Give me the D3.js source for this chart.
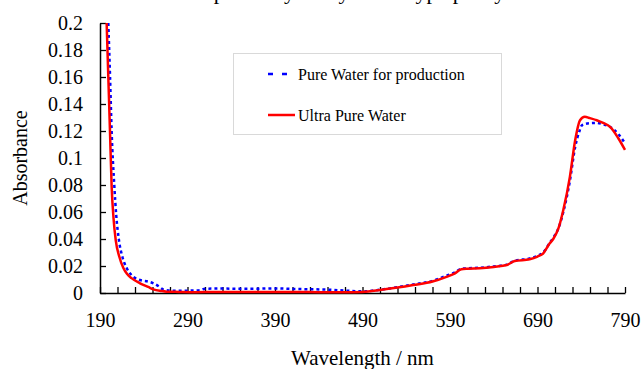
<!DOCTYPE html>
<meta charset="utf-8">
<script src="https://d3js.org/d3.v7.min.js"></script>
<style>
  body { margin: 0; background: #fff; }
  text { font-family: "Liberation Serif", "Times New Roman", serif; fill: #000; }
</style>
<div id="chart"></div>
<script>

// wavelength (nm) and absorbance readings for each sample
const pureNm = [199.5, 201.5, 203.3, 206.4, 208.5, 211.7, 215.5, 220.5, 226, 235.7, 245, 251, 257, 262, 270, 280, 295, 305, 310, 330, 350, 370, 390, 410, 430, 450, 470, 490, 510, 530, 548, 570, 586, 595.7, 603, 610, 624, 640, 655, 664, 681, 690, 696.6, 704, 708, 714, 719.5, 727, 733, 738, 741, 750, 757, 765, 773, 782, 790];
const pureAbs = [0.200, 0.16, 0.12, 0.079, 0.058, 0.039, 0.027, 0.0185, 0.0133, 0.0096, 0.0085, 0.0072, 0.005, 0.0027, 0.0018, 0.0017, 0.0018, 0.0022, 0.0032, 0.0033, 0.0031, 0.0032, 0.0034, 0.003, 0.0028, 0.0025, 0.0018, 0.0012, 0.0024, 0.0043, 0.0063, 0.009, 0.0128, 0.0152, 0.018, 0.0183, 0.0187, 0.0197, 0.021, 0.024, 0.0255, 0.0275, 0.030, 0.0372, 0.041, 0.048, 0.060, 0.083, 0.108, 0.12, 0.1244, 0.1258, 0.126, 0.125, 0.123, 0.118, 0.111];

const ultraNm = [197.6, 199.5, 201.4, 203.3, 205.5, 208, 212, 216.7, 221, 226, 235.7, 245, 251, 260, 266, 280, 300, 320, 350, 380, 410, 440, 470, 490, 510, 530, 548, 570, 586, 595.7, 603, 610, 624, 640, 655, 664, 681, 690, 696.6, 704, 708, 714, 719.5, 727, 733, 738.6, 744, 750, 757.6, 765, 773, 782, 790];
const ultraAbs = [0.200, 0.16, 0.12, 0.079, 0.055, 0.039, 0.027, 0.0185, 0.014, 0.011, 0.0072, 0.0045, 0.0027, 0.0015, 0.001, 0.0008, 0.0006, 0.0008, 0.0008, 0.0007, 0.0008, 0.0006, 0.0005, 0.0008, 0.0022, 0.004, 0.0059, 0.0085, 0.012, 0.0146, 0.0176, 0.018, 0.0183, 0.0193, 0.0207, 0.0237, 0.025, 0.027, 0.0294, 0.0368, 0.040, 0.048, 0.0615, 0.086, 0.113, 0.128, 0.1306, 0.1295, 0.128, 0.126, 0.123, 0.115, 0.106];

const seriesNames = ["Pure Water for production", "Ultra Pure Water"];
const xTickLabels = [190, 290, 390, 490, 590, 690, 790];
const yTickLabels = [0, 0.02, 0.04, 0.06, 0.08, 0.1, 0.12, 0.14, 0.16, 0.18, 0.2];

const W = 642, H = 369;
const margin = {top: 23, right: 17, bottom: 76, left: 100};
const width = W - margin.left - margin.right,
      height = H - margin.top - margin.bottom;

const svg = d3.select("#chart").append("svg")
    .attr("width", W)
    .attr("height", H);

// title sits above the visible area, only descenders peek in
svg.append("text")
    .attr("x", 300)
    .attr("y", -1)
    .attr("text-anchor", "middle")
    .style("font-size", "22px")
    .text("Absorbance spectra by every water type purity");

const g = svg.append("g")
    .attr("transform", `translate(${margin.left},${margin.top})`);

const x = d3.scaleLinear().domain([190, 790]).range([0, width]);
const y = d3.scaleLinear().domain([0, 0.2]).range([height, 0]);

// X axis: minor ticks every 20 nm pointing up, labels every 100
const xAxis = g.append("g")
    .attr("transform", `translate(0,${height})`)
    .call(d3.axisBottom(x)
        .tickValues(d3.range(190, 791, 20))
        .tickSizeInner(-6)
        .tickSizeOuter(0)
        .tickFormat(d => xTickLabels.includes(d) ? d : ""));
xAxis.select(".domain").attr("stroke", "#000").attr("stroke-width", 1.5);
xAxis.selectAll(".tick line").attr("stroke", "#000").attr("stroke-width", 1.3);
xAxis.selectAll(".tick text")
    .attr("y", 20)
    .attr("dy", "0.71em")
    .style("font-size", "20px")
    .style("font-family", "'Liberation Serif', 'Times New Roman', serif");

const yAxis = g.append("g")
    .call(d3.axisLeft(y)
        .tickValues(yTickLabels)
        .tickSizeInner(-6)
        .tickSizeOuter(0)
        .tickFormat(d => d3.format("~g")(d)));
yAxis.select(".domain").attr("stroke", "#000").attr("stroke-width", 1.5);
yAxis.selectAll(".tick line").attr("stroke", "#000").attr("stroke-width", 1.3);
yAxis.selectAll(".tick text")
    .attr("x", -17)
    .style("font-size", "20px")
    .style("font-family", "'Liberation Serif', 'Times New Roman', serif");

svg.append("text")
    .attr("x", margin.left + width / 2)
    .attr("y", 365)
    .attr("text-anchor", "middle")
    .style("font-size", "21px")
    .text("Wavelength / nm");

svg.append("text")
    .attr("transform", `translate(27,${margin.top + height / 2}) rotate(-90)`)
    .attr("text-anchor", "middle")
    .style("font-size", "20px")
    .text("Absorbance");

// curves
const line = d3.line()
    .x(d => x(d[0]))
    .y(d => y(d[1]))
    .curve(d3.curveMonotoneX);

const pureData = pureNm.map((v, i) => [v, pureAbs[i]]);
const ultraData = ultraNm.map((v, i) => [v, ultraAbs[i]]);

g.append("path")
    .datum(pureData)
    .attr("fill", "none")
    .attr("stroke", "#0000ff")
    .attr("stroke-width", 2.5)
    .attr("stroke-dasharray", "3,3")
    .attr("d", line);

g.append("path")
    .datum(ultraData)
    .attr("fill", "none")
    .attr("stroke", "#ff0000")
    .attr("stroke-width", 2.5)
    .attr("d", line);

// legend
const legend = svg.append("g");
legend.append("rect")
    .attr("x", 233.5).attr("y", 53.5)
    .attr("width", 268).attr("height", 81)
    .attr("fill", "#fff")
    .attr("stroke", "#d9d9d9");

const legendColors = ["#0000ff", "#ff0000"];
const legendDash = ["5,9", null];
seriesNames.forEach((name, i) => {
  const ly = 74 + i * 41;
  legend.append("line")
      .attr("x1", 268).attr("x2", 295)
      .attr("y1", ly).attr("y2", ly)
      .attr("stroke", legendColors[i])
      .attr("stroke-width", 2.5)
      .attr("stroke-dasharray", legendDash[i]);
  legend.append("text")
      .attr("x", 298)
      .attr("y", ly + 5.5)
      .style("font-size", "16px")
      .text(name);
});

</script>
